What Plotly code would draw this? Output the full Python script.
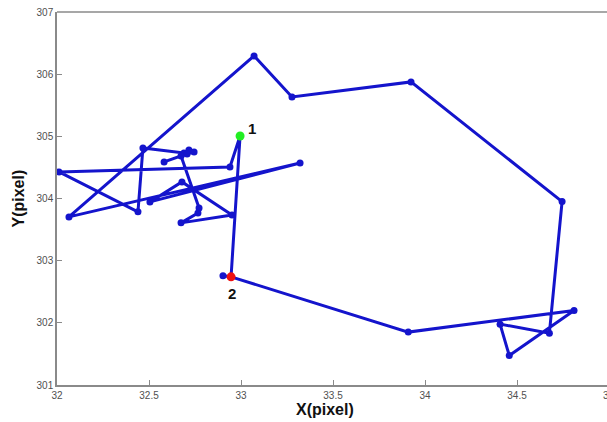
import plotly.graph_objects as go

# Trajectory (in drawing order)
x_vals = [32.902, 32.946, 32.995, 32.940, 32.011, 32.440, 32.467, 32.690, 32.717, 32.745,
          32.707, 32.582, 32.674, 32.772, 32.766, 32.674, 32.951, 32.679, 32.505, 33.321,
          32.065, 33.071, 33.277, 33.924, 34.745, 34.676, 34.408, 34.458, 34.810, 33.909,
          32.946]
y_vals = [302.756, 302.740, 305.006, 304.508, 304.428, 303.785, 304.814, 304.733, 304.781, 304.749,
          304.717, 304.588, 304.685, 303.849, 303.768, 303.608, 303.736, 304.267, 303.945, 304.572,
          303.704, 306.293, 305.633, 305.875, 303.950, 301.834, 301.979, 301.474, 302.198, 301.851,
          302.740]

start_pt = (32.995, 305.006)
end_pt = (32.946, 302.740)
point_labels = ["1", "2"]

x_ticks = [32, 32.5, 33, 33.5, 34, 34.5, 35]
x_tick_text = ["32", "32.5", "33", "33.5", "34", "34.5", "35"]
y_ticks = [301, 302, 303, 304, 305, 306, 307]

BLUE = "#1414cc"
AX = "#8a8a8a"
TICKFONT = dict(family="Liberation Sans Narrow, Liberation Sans, Arial", size=10, color="#505050")

fig = go.Figure()
fig.add_trace(go.Scatter(
    x=x_vals, y=y_vals, mode="lines+markers",
    line=dict(color=BLUE, width=3),
    marker=dict(color=BLUE, size=7),
    showlegend=False, hoverinfo="skip"))
fig.add_trace(go.Scatter(
    x=[start_pt[0]], y=[start_pt[1]], mode="markers",
    marker=dict(color="#22ee22", size=9), showlegend=False))
fig.add_trace(go.Scatter(
    x=[end_pt[0]], y=[end_pt[1]], mode="markers",
    marker=dict(color="#ee1111", size=9), showlegend=False))

fig.add_annotation(x=start_pt[0], y=start_pt[1], text="<b>" + point_labels[0] + "</b>",
                   showarrow=False, xanchor="left", yanchor="bottom", xshift=6, yshift=-3,
                   font=dict(family="Liberation Sans, Arial", size=15, color="#111111"))
fig.add_annotation(x=end_pt[0], y=end_pt[1], text="<b>" + point_labels[1] + "</b>",
                   showarrow=False, xanchor="center", yanchor="top", xshift=1, yshift=-6,
                   font=dict(family="Liberation Sans, Arial", size=15, color="#111111"))

# the partially visible last x tick label (cut off by the window edge)
fig.add_annotation(xref="paper", yref="paper", x=(609 - 57) / 550, y=0, yshift=-3,
                   text=x_tick_text[-1], showarrow=False, xanchor="center", yanchor="top",
                   font=TICKFONT)

# Axis titles
fig.add_annotation(xref="paper", yref="paper", x=(325 - 57) / 550, y=-24 / 373,
                   text="<b>X(pixel)</b>", showarrow=False, yanchor="middle",
                   font=dict(family="Liberation Sans, Arial", size=16, color="#111111"))
fig.add_annotation(xref="paper", yref="paper", x=-39 / 550, y=0.5,
                   text="<b>Y(pixel)</b>", showarrow=False, textangle=-90, xanchor="center",
                   font=dict(family="Liberation Sans, Arial", size=16, color="#111111"))

# top frame line
fig.add_shape(type="line", xref="paper", yref="paper", x0=0, x1=1, y0=1, y1=1,
              line=dict(color=AX, width=1.5))

fig.update_layout(
    width=607, height=422,
    margin=dict(l=57, r=0, t=12, b=37),
    plot_bgcolor="white", paper_bgcolor="white",
    xaxis=dict(range=[32, 32 + 550 / 184], tickvals=x_ticks[:-1], ticktext=x_tick_text[:-1],
               showgrid=False, zeroline=False, showline=True, linecolor=AX, linewidth=1.5,
               ticks="inside", ticklen=5, tickcolor=AX, tickfont=TICKFONT),
    yaxis=dict(range=[301, 307], tickvals=y_ticks, showgrid=False, zeroline=False,
               showline=True, linecolor=AX, linewidth=1.5,
               ticks="inside", ticklen=5, tickcolor=AX, tickfont=TICKFONT),
)

fig.write_html("out.html")
